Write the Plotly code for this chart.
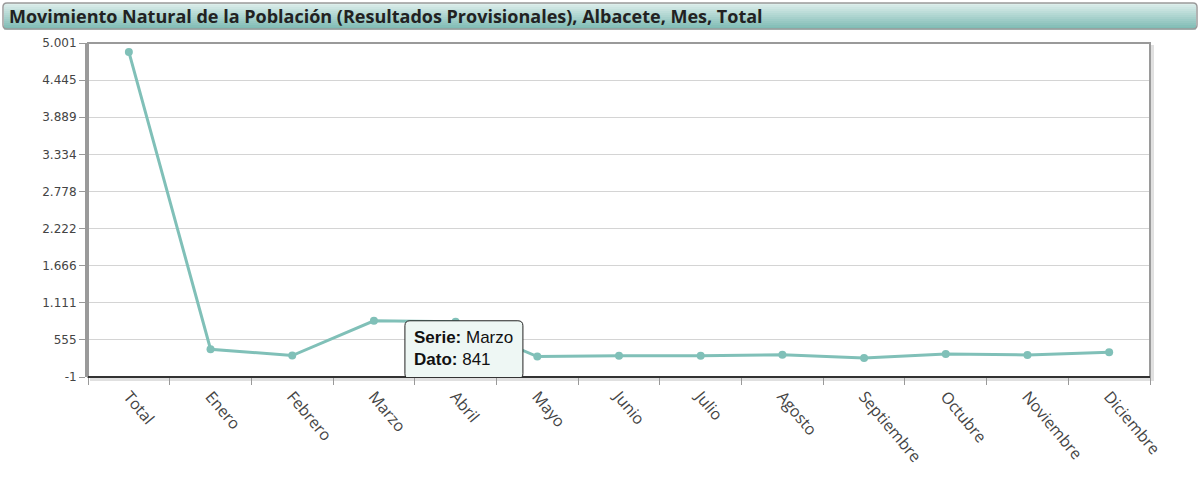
import plotly.graph_objects as go

categories = ["Total", "Enero", "Febrero", "Marzo", "Abril", "Mayo", "Junio",
              "Julio", "Agosto", "Septiembre", "Octubre", "Noviembre", "Diciembre"]
values = [4868, 415, 320, 841, 828, 305, 318, 316, 333, 285, 343, 330, 368]
ytick_vals = [-1, 555, 1111, 1666, 2222, 2778, 3334, 3889, 4445, 5001]
ytick_text = ["-1", "555", "1.111", "1.666", "2.222", "2.778", "3.334", "3.889", "4.445", "5.001"]
title_text = "Movimiento Natural de la Población (Resultados Provisionales), Albacete, Mes, Total"
hover_idx = 3

W, H = 1200, 481
L, R, T, B = 88, 50, 43, 104
PW = W - L - R
PH = H - T - B

def px(x):
    return (x - L) / PW

def py(y):
    return (H - B - y) / PH

TEAL = "#80c0b8"

fig = go.Figure()
fig.add_trace(go.Scatter(
    x=categories, y=values, mode="lines+markers",
    line=dict(color=TEAL, width=3),
    marker=dict(color=TEAL, size=8),
    hoverinfo="skip", showlegend=False,
))

shapes = []
# plot shadow
shapes.append(dict(type="rect", xref="paper", yref="paper",
                   x0=px(L + 2), x1=px(L + PW + 4), y0=py(T + PH + 4), y1=py(T + 2),
                   line=dict(width=0), fillcolor="rgba(0,0,0,0.12)", layer="below"))
shapes.append(dict(type="rect", xref="paper", yref="paper",
                   x0=0, x1=1, y0=0, y1=1,
                   line=dict(width=0), fillcolor="white", layer="below"))
# frame
shapes.append(dict(type="rect", xref="paper", yref="paper",
                   x0=0, x1=1, y0=0, y1=1,
                   line=dict(color="#9a9a9a", width=2), layer="above"))
# bottom axis line
shapes.append(dict(type="line", xref="paper", yref="paper",
                   x0=0, x1=1, y0=0, y1=0,
                   line=dict(color="#333333", width=2), layer="above"))

# title bar gradient
bx0, bx1, by0, by1 = 3, 1197, 3, 29
top_c = (220, 238, 235)
bot_c = (128, 188, 181)
n = 13
step = (by1 - by0) / n
for i in range(n):
    t = i / (n - 1)
    c = tuple(int(top_c[k] + (bot_c[k] - top_c[k]) * t) for k in range(3))
    shapes.append(dict(type="rect", xref="paper", yref="paper",
                       x0=px(bx0 + 1), x1=px(bx1 - 1),
                       y0=py(by0 + (i + 1) * step + 0.5), y1=py(by0 + i * step),
                       line=dict(width=0), fillcolor="rgb(%d,%d,%d)" % c, layer="below"))
# rounded border of title bar
r = 4
def P(x, y):
    return "%f,%f" % (px(x), py(y))
path = ("M " + P(bx0 + r, by0) + " L " + P(bx1 - r, by0) +
        " Q " + P(bx1, by0) + " " + P(bx1, by0 + r) +
        " L " + P(bx1, by1 - r) + " Q " + P(bx1, by1) + " " + P(bx1 - r, by1) +
        " L " + P(bx0 + r, by1) + " Q " + P(bx0, by1) + " " + P(bx0, by1 - r) +
        " L " + P(bx0, by0 + r) + " Q " + P(bx0, by0) + " " + P(bx0 + r, by0) + " Z")
shapes.append(dict(type="path", xref="paper", yref="paper", path=path,
                   line=dict(color="#9a9a9a", width=1.5), layer="above"))

# tooltip box (rounded), pixel-sized, anchored at hovered point
tx0, tx1, ty0, ty1, tr = 31, 149, 0, -58, 5
tip_path = ("M %d,%d L %d,%d Q %d,%d %d,%d L %d,%d Q %d,%d %d,%d L %d,%d Q %d,%d %d,%d L %d,%d Q %d,%d %d,%d Z" % (
    tx0 + tr, ty0, tx1 - tr, ty0, tx1, ty0, tx1, ty0 - tr,
    tx1, ty1 + tr, tx1, ty1, tx1 - tr, ty1,
    tx0 + tr, ty1, tx0, ty1, tx0, ty1 + tr,
    tx0, ty0 - tr, tx0, ty0, tx0 + tr, ty0))
shapes.append(dict(type="path", xref="x", yref="y", xsizemode="pixel", ysizemode="pixel",
                   xanchor=hover_idx, yanchor=values[hover_idx], path=tip_path,
                   fillcolor="#eef7f4", line=dict(color="#222", width=1), layer="above"))

annotations = [
    dict(xref="paper", yref="paper", x=px(7), y=py(16), xanchor="left", yanchor="middle",
         text="<b>" + title_text + "</b>", showarrow=False,
         font=dict(family="Open Sans, Liberation Sans", size=18, color="#222")),
    dict(xref="x", yref="y", x=categories[hover_idx], y=values[hover_idx],
         xanchor="left", yanchor="top", xshift=38, yshift=-5,
         text="<b>Serie:</b> %s<br><b>Dato:</b> %d" % (categories[hover_idx], values[hover_idx]),
         showarrow=False, align="left",
         font=dict(family="Liberation Sans, Arial", size=17, color="#111")),
]

fig.update_layout(
    width=W, height=H,
    margin=dict(l=L, r=R, t=T, b=B),
    paper_bgcolor="white", plot_bgcolor="rgba(0,0,0,0)",
    shapes=shapes, annotations=annotations,
    showlegend=False,
)
fig.update_xaxes(
    type="category", tickson="boundaries", ticks="outside", ticklen=7,
    tickcolor="#999", tickwidth=1, tickangle=50, showgrid=False,
    tickfont=dict(family="Open Sans, DejaVu Sans", size=16, color="#444"),
    ticklabelstandoff=6,
    showline=False, zeroline=False, range=[-0.5, len(categories) - 0.5],
)
fig.update_yaxes(
    range=[-1, 5001], tickvals=ytick_vals, ticktext=ytick_text,
    ticks="outside", ticklen=6, tickcolor="#999", showgrid=True, gridcolor="#d4d4d4",
    gridwidth=1, zeroline=False, showline=True, linecolor="#9a9a9a", linewidth=3,
    tickfont=dict(family="DejaVu Sans", size=12, color="#444"),
)

fig.write_html("out.html", config={"displayModeBar": False},
               post_script="document.body.style.margin='0';")
